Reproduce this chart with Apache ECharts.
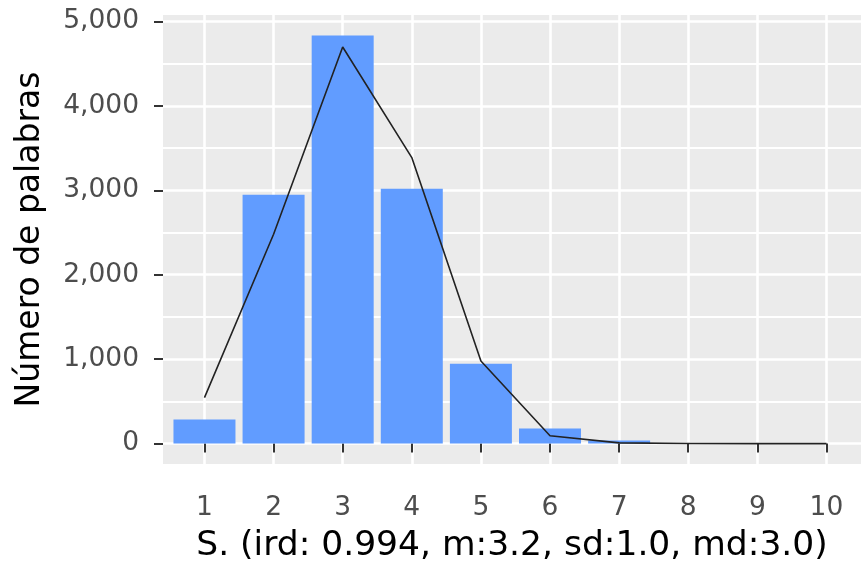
<!DOCTYPE html>
<html>
<head>
<meta charset="utf-8">
<title>Número de palabras</title>
<script src="https://cdn.jsdelivr.net/npm/echarts@6/dist/echarts.min.js"></script>
<style>
  html, body { margin: 0; padding: 0; background: #ffffff; }
  #chart { width: 861px; height: 569px; }
</style>
</head>
<body>
<div id="chart"></div>
<script>
// Word length histogram (bars) with a fitted curve (line)
const categories = [1, 2, 3, 4, 5, 6, 7, 8, 9, 10];
const wordCounts = [284, 2947, 4835, 3018, 947, 178, 36, 4, 1, 0];
const fittedCounts = [544, 2480, 4698, 3388, 978, 92, 8, 1, 0, 0];
const yTicks = [0, 1000, 2000, 3000, 4000, 5000];
const yMinorTicks = [500, 1500, 2500, 3500, 4500];
const xTitle = 'S. (ird: 0.994, m:3.2, sd:1.0, md:3.0)';
const yTitle = 'Número de palabras';

const FONT = '"DejaVu Sans", sans-serif';
const peak = Math.max(...wordCounts);
const yLo = -0.05 * peak;
const yHi = 1.05 * peak;

const chart = echarts.init(document.getElementById('chart'), null, { renderer: 'canvas' });

const fmt = v => String(v).replace(/\B(?=(\d{3})+(?!\d))/g, ',');

chart.setOption({
  animation: false,
  backgroundColor: '#ffffff',
  grid: {
    left: 163, right: 0, top: 15, bottom: 104,
    containLabel: false,
    show: true,
    backgroundColor: '#EBEBEB',
    borderWidth: 0
  },
  xAxis: {
    type: 'value',
    min: 0.4,
    max: 10.5,
    name: xTitle,
    nameLocation: 'middle',
    nameGap: 65,
    nameTextStyle: { color: '#000000', fontSize: 34.5, fontFamily: FONT },
    axisLine: { show: false },
    axisTick: {
      show: true, length: 9, customValues: categories,
      lineStyle: { color: '#333333', width: 2 }
    },
    axisLabel: {
      show: true, customValues: categories, margin: 31,
      color: '#4D4D4D', fontSize: 26.5, fontFamily: FONT
    },
    splitLine: { show: true, lineStyle: { color: '#ffffff', width: 2.6 } }
  },
  yAxis: {
    type: 'value',
    min: yLo,
    max: yHi,
    name: yTitle,
    nameLocation: 'middle',
    nameGap: 116,
    nameRotate: 90,
    nameTextStyle: { color: '#000000', fontSize: 33, fontFamily: FONT },
    axisLine: { show: false },
    axisTick: {
      show: true, length: 9, customValues: yTicks,
      lineStyle: { color: '#333333', width: 2 }
    },
    axisLabel: {
      show: true, customValues: yTicks, margin: 24,
      color: '#4D4D4D', fontSize: 26.5, fontFamily: FONT,
      formatter: v => fmt(v)
    },
    splitLine: { show: true, lineStyle: { color: '#ffffff', width: 2.6 } }
  },
  series: [
    {
      type: 'bar',
      data: categories.map((c, i) => [c, wordCounts[i]]),
      barWidth: 62,
      itemStyle: { color: '#619CFF' },
      silent: true,
      markLine: {
        z: 1,
        silent: true,
        symbol: ['none', 'none'],
        label: { show: false },
        lineStyle: { color: '#ffffff', width: 2, type: 'solid' },
        data: yMinorTicks.map(v => ({ yAxis: v }))
      }
    },
    {
      type: 'line',
      data: categories.map((c, i) => [c, fittedCounts[i]]),
      showSymbol: false,
      symbol: 'none',
      lineStyle: { color: '#222222', width: 1.6 },
      silent: true
    }
  ]
});
</script>
</body>
</html>
